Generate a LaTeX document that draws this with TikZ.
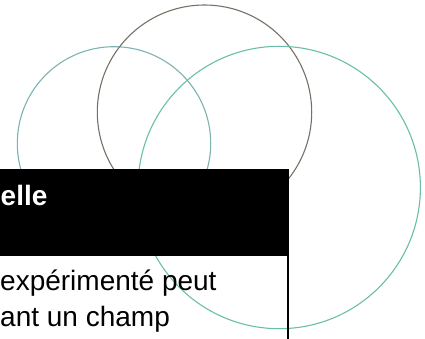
\documentclass[tikz,border=0pt]{standalone}
\usepackage{fontspec}
\setmainfont{Liberation Sans}
\definecolor{ringA}{RGB}{125,178,178}
\definecolor{ringB}{RGB}{118,112,102}
\definecolor{ringC}{RGB}{105,190,170}
\tikzset{
  ring/.style={draw, line width=1.1pt},
  bodytext/.style={anchor=base west, inner sep=0pt, font=\fontsize{28}{36}\selectfont, text=black},
  headtext/.style={anchor=base west, inner sep=0pt, font=\fontsize{28}{36}\selectfont\bfseries, text=white}
}
\begin{document}
\begin{tikzpicture}[x=1pt,y=-1pt]
\useasboundingbox (0,0) rectangle (425,339);
\clip (0,0) rectangle (425,339);
% rings
\draw[ring, ringA] (114,143.4) circle[radius=96.7];
\draw[ring, ringB] (204.5,112.2) circle[radius=107.2];
\draw[ring, ringC] (279.2,187.5) circle[radius=141.2];
% header band
\fill[black] (-2,169) rectangle (288.5,256);
\node[headtext] (head) at (0.5,205) {elle};
% body
\node[bodytext] (l1) at (0,290) {expérimenté peut};
\node[bodytext] (l2) at (0,326) {ant un champ};
\coordinate (rt) at (287.5,256);
\coordinate (rb) at (287.5,340);
\draw[line width=2pt] (rt) -- (rb);
\end{tikzpicture}
\end{document}
